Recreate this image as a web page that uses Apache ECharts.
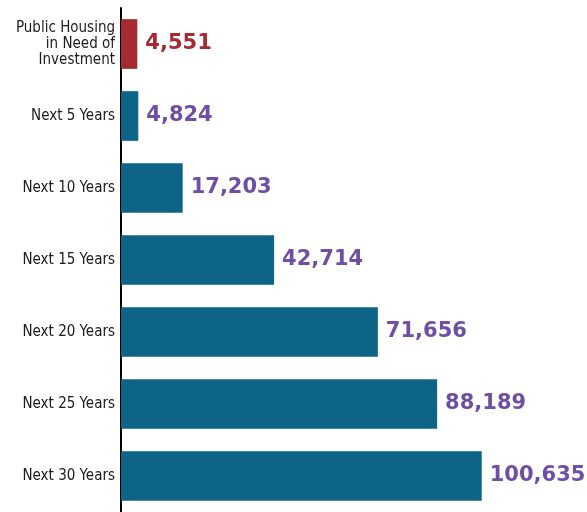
<!DOCTYPE html>
<html>
<head>
<meta charset="utf-8">
<script src="https://cdn.jsdelivr.net/npm/echarts@6/dist/echarts.min.js"></script>
<style>
  html, body { margin: 0; padding: 0; background: #fff; }
  #chart { width: 587px; height: 512px; }
</style>
</head>
<body>
<div id="chart"></div>
<script>
// 类别与数值（自上而下）
const categories = [
    'Public Housing\nin Need of\nInvestment',
    'Next 5 Years',
    'Next 10 Years',
    'Next 15 Years',
    'Next 20 Years',
    'Next 25 Years',
    'Next 30 Years'
];
const values = [4551, 4824, 17203, 42714, 71656, 88189, 100635];
const highlightIndex = 0;

const chartInstance = echarts.init(document.getElementById('chart'));

const option = {
    animation: false,
    grid: { left: 121, right: 0, top: 8, bottom: 0 },
    xAxis: {
        type: 'value',
        min: 0,
        max: 130000,
        show: false
    },
    yAxis: {
        type: 'category',
        inverse: true,
        data: categories,
        axisLine: { show: true, lineStyle: { color: '#000', width: 2 } },
        axisTick: { show: false },
        axisLabel: {
            margin: 6,
            color: '#1a1a1a',
            fontSize: 15,
            lineHeight: 16,
            fontFamily: '"Liberation Sans Narrow", "DejaVu Sans Condensed", sans-serif'
        }
    },
    series: [
        {
            type: 'bar',
            barCategoryGap: '31%',
            data: values.map((v, i) => ({
                value: v,
                itemStyle: { color: i === highlightIndex ? '#a52a32' : '#0e6486' },
                label: { color: i === highlightIndex ? '#a52a32' : '#6e4fa3' }
            })),
            label: {
                show: true,
                position: 'right',
                distance: 8,
                fontSize: 21,
                fontWeight: 'bold',
                fontFamily: '"DejaVu Sans", sans-serif',
                formatter: (p) => p.value.toLocaleString('en-US')
            }
        }
    ]
};

chartInstance.setOption(option);
</script>
</body>
</html>
